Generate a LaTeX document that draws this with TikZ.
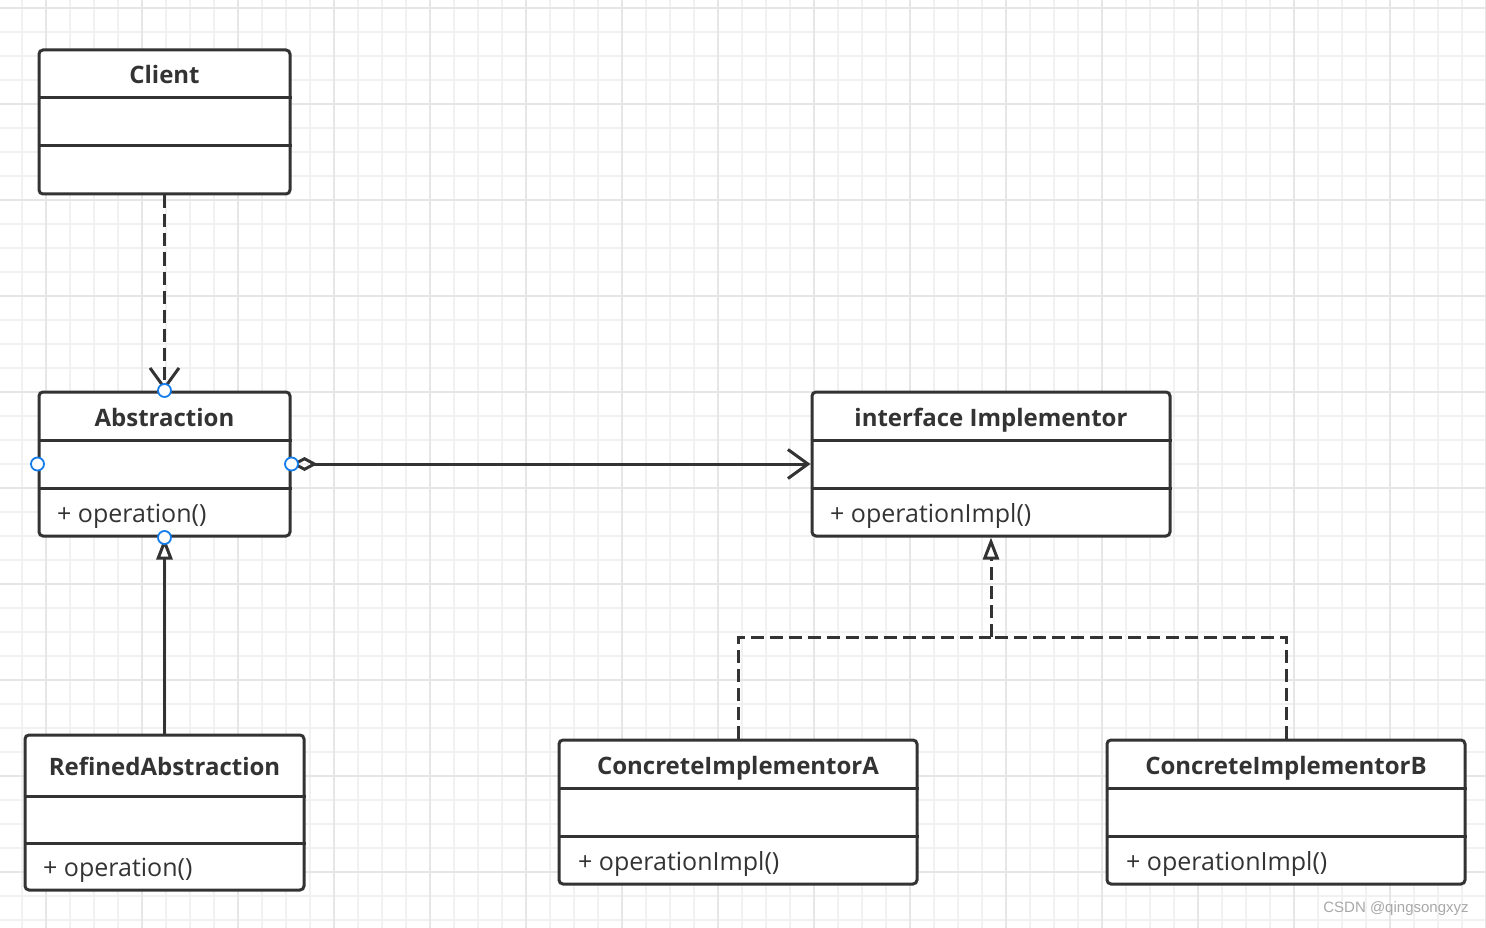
\documentclass[tikz,border=0pt]{standalone}
\usepackage{fontspec}
\setmainfont{Open Sans}
\newfontfamily\wmfont{Liberation Sans}
\usetikzlibrary{arrows.meta}
\definecolor{linec}{HTML}{333333}
\definecolor{gridminor}{HTML}{F1F1F1}
\definecolor{gridmajor}{HTML}{E6E6E6}
\definecolor{portblue}{RGB}{20,125,235}
\definecolor{wmgray}{HTML}{A8A8A8}
\tikzset{
  classbox/.style={draw=linec, line width=3pt, rounded corners=4pt, fill=white, inner sep=0pt, rectangle},
  divider/.style={draw=linec, line width=3pt},
  title/.style={font=\bfseries\fontsize{24}{28}\selectfont, text=linec, inner sep=0pt, anchor=base},
  member/.style={font=\fontsize{25}{29}\selectfont, text=linec, inner sep=0pt, anchor=base west},
  conn/.style={draw=linec, line width=3pt},
  dashconn/.style={conn, dash pattern=on 13pt off 6pt},
  port/.style={circle, draw=portblue, fill=white, line width=1.8pt, minimum size=13pt, inner sep=0pt},
  barb/.tip={Straight Barb[length=20pt,width=29pt]},
  hollow/.tip={Triangle[open,fill=white,length=22pt,width=16pt]},
  agg/.tip={Diamond[open,length=26pt,width=14pt]},
}
\begin{document}
\begin{tikzpicture}[x=1pt,y=-1pt]
\useasboundingbox (0,0) rectangle (1486,928);
\fill[white] (0,0) rectangle (1486,928);
% grid
\foreach \x in {22,46,...,1486} \draw[gridminor, line width=1.8pt] (\x,0) -- (\x,928);
\foreach \y in {8,32,...,928} \draw[gridminor, line width=1.8pt] (0,\y) -- (1486,\y);
\foreach \x in {46,142,...,1486} \draw[gridmajor, line width=2.4pt] (\x,0) -- (\x,928);
\foreach \y in {8,104,...,928} \draw[gridmajor, line width=2.4pt] (0,\y) -- (1486,\y);

% Client
\node[classbox, minimum width=251pt, minimum height=144pt] (client) at (164.5,122) {};
\draw[divider] (client.west |- 0,98) -- (client.east |- 0,98);
\draw[divider] (client.west |- 0,146) -- (client.east |- 0,146);
\node[title] (clientT) at (164.5,84) {Client};

% Abstraction
\node[classbox, minimum width=251pt, minimum height=144pt] (abs) at (164.5,464) {};
\draw[divider] (abs.west |- 0,440) -- (abs.east |- 0,440);
\draw[divider] (abs.west |- 0,488) -- (abs.east |- 0,488);
\node[title] (absT) at (164.5,426) {Abstraction};
\node[member] (absM) at (57,522) {+ operation()};

% Implementor
\node[classbox, minimum width=358pt, minimum height=144pt] (impl) at (991,464) {};
\draw[divider] (impl.west |- 0,440) -- (impl.east |- 0,440);
\draw[divider] (impl.west |- 0,488) -- (impl.east |- 0,488);
\node[title] (implT) at (991,426) {interface Implementor};
\node[member] (implM) at (830,522) {+ operationImpl()};

% RefinedAbstraction
\node[classbox, minimum width=279pt, minimum height=155pt] (ref) at (164.5,812.5) {};
\draw[divider] (ref.west |- 0,796) -- (ref.east |- 0,796);
\draw[divider] (ref.west |- 0,843) -- (ref.east |- 0,843);
\node[title] (refT) at (164.5,775) {RefinedAbstraction};
\node[member] (refM) at (43,876) {+ operation()};

% ConcreteImplementorA
\node[classbox, minimum width=358pt, minimum height=144pt] (cia) at (738,812) {};
\draw[divider] (cia.west |- 0,788) -- (cia.east |- 0,788);
\draw[divider] (cia.west |- 0,836) -- (cia.east |- 0,836);
\node[title] (ciaT) at (738,774) {ConcreteImplementorA};
\node[member] (ciaM) at (578,870) {+ operationImpl()};

% ConcreteImplementorB
\node[classbox, minimum width=358pt, minimum height=144pt] (cib) at (1286,812) {};
\draw[divider] (cib.west |- 0,788) -- (cib.east |- 0,788);
\draw[divider] (cib.west |- 0,836) -- (cib.east |- 0,836);
\node[title] (cibT) at (1286,774) {ConcreteImplementorB};
\node[member] (cibM) at (1126,870) {+ operationImpl()};

% connectors
\draw[dashconn, -barb] (client.south) -- (abs.north);
\draw[conn, agg-barb] (abs.east) -- (impl.west);
\draw[conn, -hollow] (ref.north) -- (abs.south);
\coordinate (join) at (991,637);
\draw[dashconn] (cia.north) |- (join);
\draw[dashconn] (cib.north) |- (join);
\draw[dashconn, -hollow] (join) -- (impl.south);

% ports
\node[port] (p1) at (abs.north) {};
\node[port] (p2) at (abs.west) {};
\node[port] (p3) at (abs.east) {};
\node[port] (p4) at (abs.south) {};

% watermark
\node[font=\wmfont\fontsize{15}{18}\selectfont, text=wmgray, inner sep=0pt] (wm) at (1396,909) {CSDN @qingsongxyz};
\end{tikzpicture}
\end{document}
